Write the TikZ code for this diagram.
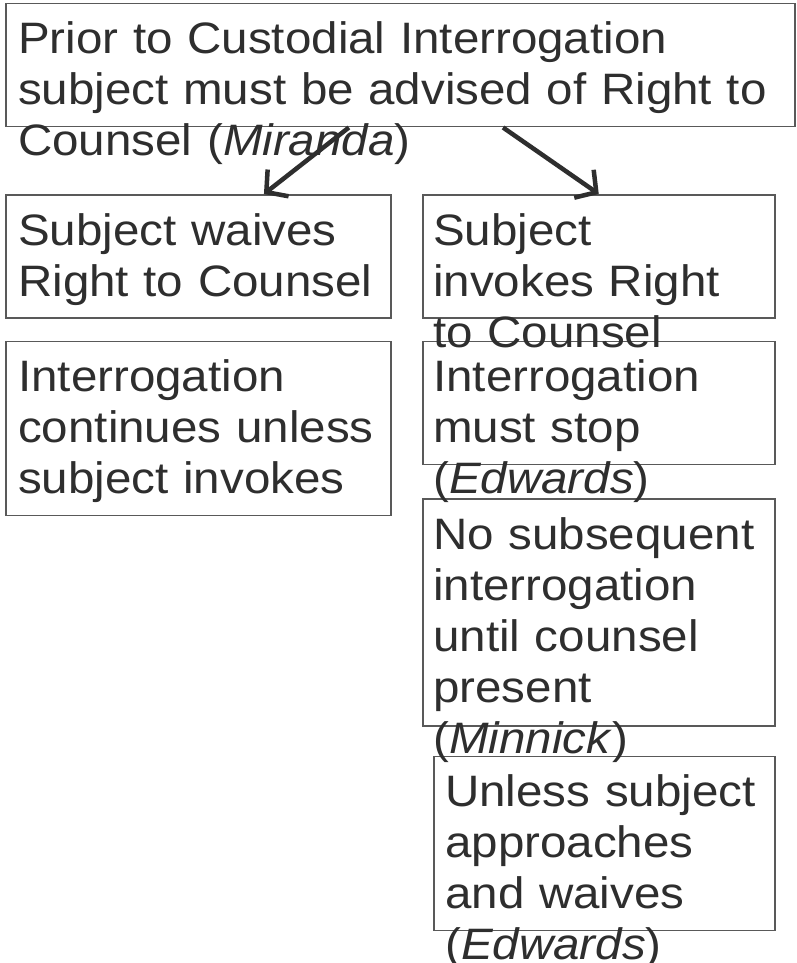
\documentclass[tikz,border=0pt]{standalone}
\usepackage{fontspec}
\setmainfont{Liberation Sans}[FakeStretch=1.08]
\usetikzlibrary{arrows.meta,positioning,calc}
\definecolor{boxline}{HTML}{595959}
\definecolor{inkgray}{HTML}{2E2E2E}
\tikzset{
  rulebox/.style={draw=boxline,line width=1.5pt,inner sep=0pt,anchor=north west},
  ruletext/.style={anchor=base west,inner sep=0pt,align=left,text width=790pt,text=inkgray,font=\fontsize{44}{51}\selectfont},
  arr/.style={-{Straight Barb[length=15pt,width=34pt]},line width=4.5pt,draw=inkgray}
}
\begin{document}
\begin{tikzpicture}[x=1pt,y=-1pt]
  \useasboundingbox[fill=white] (0,0) rectangle (796,963);
  %% boxes
  \node[rulebox,minimum width=789pt,minimum height=123pt] (prior) at (5,3) {};
  \node[rulebox,minimum width=385pt,minimum height=123pt] (waive) at (5,194) {};
  \node[rulebox,minimum width=385pt,minimum height=174pt,below=22pt of waive] (cont) {};
  \node[rulebox,minimum width=352pt,minimum height=123pt] (invoke) at (422,194) {};
  \node[rulebox,minimum width=352pt,minimum height=123pt,below=22pt of invoke] (stop) {};
  \node[rulebox,minimum width=352pt,minimum height=227pt,below=33pt of stop] (minn) {};
  \node[rulebox,minimum width=341pt,minimum height=174pt,below=29pt of minn.south east,anchor=north east] (appr) {};
  %% texts (they run past the boxes)
  \node[ruletext] (priortx) at ($(prior.north west)+(13,51)$) {Prior to Custodial Interrogation\\subject must be advised of Right to\\Counsel (\textit{Miranda})};
  \node[ruletext] (waivetx) at ($(waive.north west)+(13,51)$) {Subject waives\\Right to Counsel};
  \node[ruletext] (conttx) at ($(cont.north west)+(13,51)$) {Interrogation\\continues unless\\subject invokes};
  \node[ruletext] (invoketx) at ($(invoke.north west)+(11,51)$) {Subject\\invokes Right\\to Counsel};
  \node[ruletext] (stoptx) at ($(stop.north west)+(11,51)$) {Interrogation\\must stop\\(\textit{Edwards})};
  \node[ruletext] (minntx) at ($(minn.north west)+(11,51)$) {No subsequent\\interrogation\\until counsel\\present\\(\textit{Minnick})};
  \node[ruletext] (apprtx) at ($(appr.north west)+(12,51)$) {Unless subject\\approaches\\and waives\\(\textit{Edwards})};
  %% arrows
  \draw[arr] ($(prior.south west)!0.435!(prior.south east)$) -- ($(waive.north west)!0.67!(waive.north east)$);
  \draw[arr] ($(prior.south west)!0.63!(prior.south east)$) -- (invoke.north);
\end{tikzpicture}
\end{document}
